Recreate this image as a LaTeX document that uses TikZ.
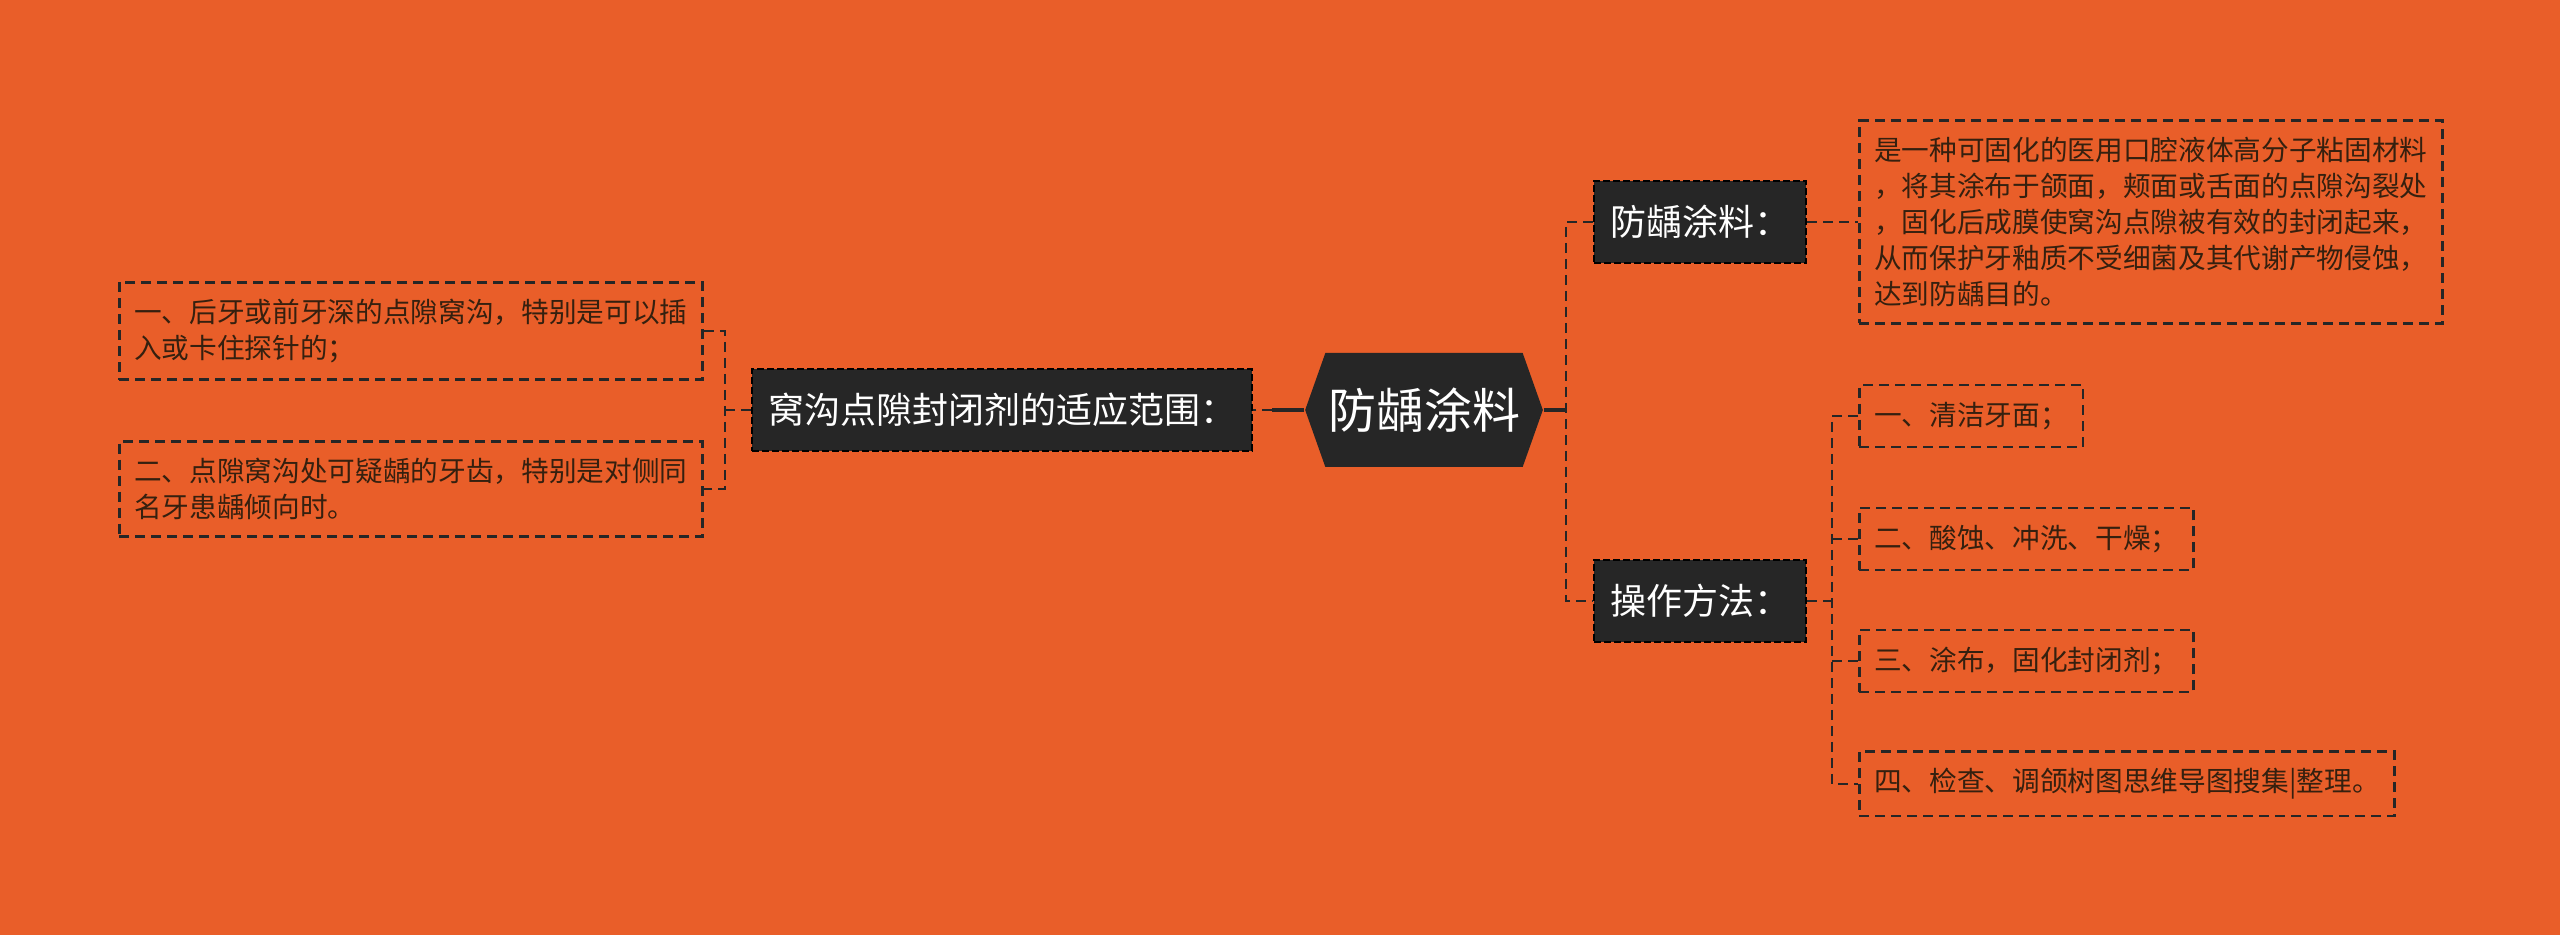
\documentclass[tikz,border=0pt]{standalone}
\usepackage{fontspec}
\setmainfont{Noto Sans CJK SC}
\usepackage{tikz}
\usetikzlibrary{shapes.symbols}

\definecolor{bgorange}{HTML}{E95E29}
\definecolor{boxdark}{HTML}{262626}
\definecolor{inkdark}{HTML}{35200F}

\tikzset{
  link/.style={draw=boxdark, line width=0.75pt, dash pattern=on 3pt off 1.8pt},
  stem/.style={draw=boxdark, line width=1pt},
  rootnode/.style={signal, signal to=west and east, signal pointer angle=141,
    fill=boxdark, text=white, inner xsep=0.8pt, minimum height=34.2pt,
    font=\fontsize{14.4pt}{17pt}\selectfont},
  topic/.style={fill=boxdark, draw=black, line width=0.6pt,
    dash pattern=on 2pt off 1pt, text=white, minimum height=24.6pt,
    inner xsep=4.8pt, font=\fontsize{10.8pt}{13pt}\selectfont},
  leaf/.style={draw=boxdark, line width=0.75pt, dash pattern=on 3pt off 1.8pt,
    text=inkdark, align=left, anchor=west, inner xsep=4.5pt, inner ysep=5pt,
    minimum height=18.6pt, font=\fontsize{8.3pt}{10.8pt}\selectfont},
}

\begin{document}
\begin{tikzpicture}[x=0.3pt,y=-0.3pt]
%背景
\useasboundingbox (0,0) rectangle (2560,935);
\fill[bgorange] (0,0) rectangle (2560,935);
%中心
\node[rootnode] (root) at (1424,410) {防龋涂料};
%左侧
\node[topic] (fanwei) at (1002,410) {窝沟点隙封闭剂的适应范围：};
\node[leaf] (fanwei1) at (118,331) {一、后牙或前牙深的点隙窝沟，特别是可以插\\入或卡住探针的；};
\node[leaf] (fanwei2) at (118,489) {二、点隙窝沟处可疑龋的牙齿，特别是对侧同\\名牙患龋倾向时。};
%右侧
\node[topic] (tuliao) at (1700,222) {防龋涂料：};
\node[leaf] (shuoming) at (1858,222) {是一种可固化的医用口腔液体高分子粘固材料\\，将其涂布于颌面，颊面或舌面的点隙沟裂处\\，固化后成膜使窝沟点隙被有效的封闭起来，\\从而保护牙釉质不受细菌及其代谢产物侵蚀，\\达到防龋目的。};
\node[topic] (fangfa) at (1700,601) {操作方法：};
\node[leaf] (buzhou1) at (1858,416) {一、清洁牙面；};
\node[leaf] (buzhou2) at (1858,539) {二、酸蚀、冲洗、干燥；};
\node[leaf] (buzhou3) at (1858,661) {三、涂布，固化封闭剂；};
\node[leaf] (buzhou4) at (1858,784) {四、检查、调颌树图思维导图搜集|整理。};
%连线
\coordinate (busL) at (725,410);
\coordinate (busR) at (1566,410);
\coordinate (busB) at (1832,601);
\draw[stem] (root.west) -- ++(-32,0) coordinate (stubL);
\draw[link] (stubL) -- (fanwei.east);
\draw[link] (fanwei.west) -- (busL);
\draw[link] (fanwei1.east) -| (busL) |- (fanwei2.east);
\draw[stem] (root.east) -- (busR);
\draw[link] (tuliao.west) -| (busR) |- (fangfa.west);
\draw[link] (tuliao.east) -- (shuoming.west);
\draw[link] (fangfa.east) -- (busB);
\draw[link] (buzhou1.west) -| (busB) |- (buzhou4.west);
\draw[link] (busB |- buzhou2.west) -- (buzhou2.west);
\draw[link] (busB |- buzhou3.west) -- (buzhou3.west);
\end{tikzpicture}
\end{document}
